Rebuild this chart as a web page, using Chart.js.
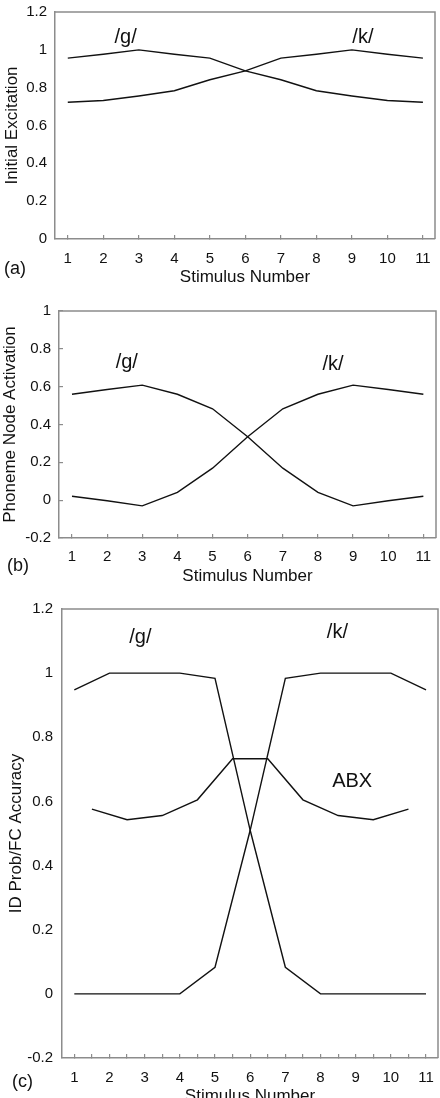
<!DOCTYPE html>
<html><head><meta charset="utf-8">
<script src="https://cdn.jsdelivr.net/npm/chart.js@4.4.0/dist/chart.umd.min.js"></script>
<style>
html,body{margin:0;padding:0;background:#fff;overflow:hidden;width:440px;height:1098px;}
#wrap{position:relative;width:440px;height:1098px;overflow:hidden;}
canvas{position:absolute;left:0;}
</style></head><body>
<div id="wrap">
<canvas id="ca" width="440" height="290" style="top:0;width:440px;height:290px"></canvas>
<canvas id="cb" width="440" height="305" style="top:290px;width:440px;height:305px"></canvas>
<canvas id="cc" width="440" height="517" style="top:595px;width:440px;height:517px"></canvas>
</div>
<script>
// ---- data ----
const stimulusNumbers = [1,2,3,4,5,6,7,8,9,10,11];
const halfSteps = [1.5,2.5,3.5,4.5,5.5,6.5,7.5,8.5,9.5,10.5];
const xTicksC = [1,1.5,2,2.5,3,3.5,4,4.5,5,5.5,6,6.5,7,7.5,8,8.5,9,9.5,10,10.5,11];

// (a) Initial Excitation
const excitationG = [0.956,0.977,1.0,0.977,0.956,0.889,0.842,0.784,0.756,0.732,0.723];
const excitationK = [0.723,0.732,0.756,0.784,0.842,0.889,0.956,0.977,1.0,0.977,0.956];
// (b) Phoneme Node Activation
const activationG = [0.56,0.585,0.608,0.56,0.483,0.335,0.169,0.041,-0.03,-0.003,0.021];
const activationK = [0.021,-0.003,-0.03,0.041,0.169,0.335,0.483,0.56,0.608,0.585,0.56];
// (c) ID probability / FC accuracy
const idProbG = [0.948,1.0,1.0,1.0,0.984,0.51,0.083,0,0,0,0];
const idProbK = [0,0,0,0,0.083,0.51,0.984,1.0,1.0,1.0,0.948];
const abxAccuracy = [0.576,0.543,0.556,0.605,0.733,0.733,0.605,0.556,0.543,0.576];

const FONT = '"Liberation Sans", Arial, sans-serif';
const AXIS = '#8c8c8c';
const INK = '#111';

function pts(xs, ys){ return xs.map((x,i)=>({x:x, y:ys[i]})); }
function fmt(v){ const r = Math.round(v*10)/10; return String(r === 0 ? 0 : r); }

const framePlugin = {
  id: 'frame',
  afterDraw(chart, args, opts){
    const ctx = chart.ctx, a = chart.chartArea;
    ctx.save();
    ctx.strokeStyle = AXIS; ctx.lineWidth = 1.5;
    ctx.beginPath(); ctx.moveTo(a.left, a.top); ctx.lineTo(a.right, a.top); ctx.lineTo(a.right, a.bottom); ctx.stroke();
    ctx.fillStyle = INK; ctx.textAlign = 'center'; ctx.textBaseline = 'middle';
    ctx.font = '20px ' + FONT;
    for (const n of opts.notes) {
      ctx.fillText(n.text, chart.scales.x.getPixelForValue(n.x), chart.scales.y.getPixelForValue(n.y));
    }
    ctx.font = '18px ' + FONT; ctx.textAlign = 'left';
    ctx.fillText(opts.panel, opts.panelX, opts.panelY);
    ctx.restore();
  }
};

function makePanel(id, c){
  return new Chart(document.getElementById(id), {
    type: 'line',
    data: { datasets: c.sets.map(s => ({ data: s, borderColor: INK, borderWidth: 1.4, pointRadius: 0, tension: 0, fill: false })) },
    plugins: [framePlugin],
    options: {
      responsive: false, animation: false, events: [],
      layout: { padding: { top: c.padTop, right: c.padRight, bottom: 0, left: 0 } },
      plugins: { legend: { display: false }, tooltip: { enabled: false },
        frame: { notes: c.notes, panel: c.panel, panelX: c.panelX, panelY: c.panelY } },
      scales: {
        x: {
          type: 'linear', min: c.xMin, max: c.xMax,
          afterBuildTicks: s => { s.ticks = c.xTicks.map(v => ({ value: v })); },
          afterFit: s => { s.height = c.xH; s.paddingLeft = 0; s.paddingRight = 0; },
          ticks: { autoSkip: false, maxRotation: 0, padding: c.xPad, color: INK, font: { family: FONT, size: 15 },
            callback: v => Number.isInteger(v) ? String(v) : '' },
          grid: { display: true, drawOnChartArea: false, drawTicks: true, tickLength: -4, color: AXIS, lineWidth: 1.2 },
          border: { display: true, color: AXIS, width: 1.5 },
          title: { display: true, text: 'Stimulus Number', color: INK, font: { family: FONT, size: 17 }, padding: { top: 0, bottom: c.xTitlePad } }
        },
        y: {
          min: c.yMin, max: c.yMax,
          afterFit: s => { s.width = c.yW; s.paddingTop = 0; s.paddingBottom = 0; },
          ticks: { stepSize: 0.2, padding: c.yPad, color: INK, font: { family: FONT, size: 15 }, callback: v => fmt(v) },
          grid: { display: true, drawOnChartArea: false, drawTicks: c.yTicks, tickLength: -4, color: AXIS, lineWidth: 1.2 },
          border: { display: true, color: AXIS, width: 1.5 },
          title: { display: true, text: c.yTitle, color: INK, font: { family: FONT, size: 17 }, padding: { top: c.yTitlePad, bottom: 0 } }
        }
      }
    }
  });
}

makePanel('ca', {
  sets: [pts(stimulusNumbers, excitationG), pts(stimulusNumbers, excitationK)],
  padTop: 12, padRight: 5, xH: 51, yW: 55,
  xMin: 0.64, xMax: 11.34, xTicks: stimulusNumbers, xPad: 15, xTitlePad: 2,
  yMin: 0, yMax: 1.2, yPad: 8, yTicks: false, yTitle: 'Initial Excitation', yTitlePad: 2,
  notes: [{text:'/g/', x:2.63, y:1.063}, {text:'/k/', x:9.31, y:1.063}],
  panel: '(a)', panelX: 4, panelY: 269.5
});

makePanel('cb', {
  sets: [pts(stimulusNumbers, activationG), pts(stimulusNumbers, activationK)],
  padTop: 21, padRight: 4, xH: 57, yW: 59,
  xMin: 0.63, xMax: 11.36, xTicks: stimulusNumbers, xPad: 14, xTitlePad: 8,
  yMin: -0.2, yMax: 1, yPad: 12, yTicks: true, yTitle: 'Phoneme Node Activation', yTitlePad: 0,
  notes: [{text:'/g/', x:2.56, y:0.73}, {text:'/k/', x:8.43, y:0.715}],
  panel: '(b)', panelX: 7, panelY: 276
});

makePanel('cc', {
  sets: [pts(stimulusNumbers, idProbG), pts(stimulusNumbers, idProbK), pts(halfSteps, abxAccuracy)],
  padTop: 14, padRight: 2, xH: 54, yW: 62,
  xMin: 0.65, xMax: 11.34, xTicks: xTicksC, xPad: 14.5, xTitlePad: 5,
  yMin: -0.2, yMax: 1.2, yPad: 9, yTicks: false, yTitle: 'ID Prob/FC Accuracy', yTitlePad: 6,
  notes: [{text:'/g/', x:2.88, y:1.11}, {text:'/k/', x:8.48, y:1.126}, {text:'ABX', x:8.9, y:0.661}],
  panel: '(c)', panelX: 12, panelY: 487.5
});
</script>
</body></html>
